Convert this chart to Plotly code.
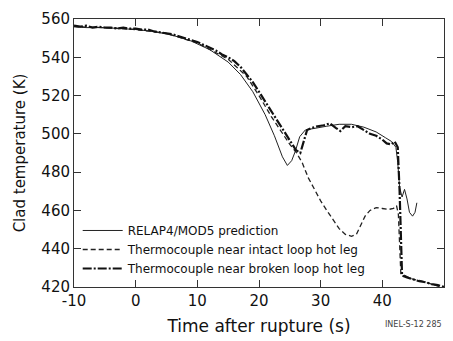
import plotly.graph_objects as go

# RELAP4/MOD5 prediction
relap_t = [-10, -8, -5, -2, 0, 3, 6, 9, 12, 15, 17, 19, 21, 22.5, 23.8, 24.6, 25.3, 25.9, 26.6, 27.5,
           29, 31, 33, 35, 37, 39, 40.5, 41.5, 42.2, 42.5, 42.8, 43.2, 43.6, 44.0, 44.4, 44.9, 45.3, 45.6]
relap_k = [556, 555.5, 555.5, 555, 554.5, 553.5, 551.5, 548.5, 544, 537.5, 531, 522, 510, 499, 488, 483.5,
           486, 491, 498.5, 502, 503, 504, 505, 505, 503.5, 501, 498, 496, 493, 485, 472, 467, 471, 466,
           459, 457, 459, 464]

# Thermocouple near intact loop hot leg
intact_t = [-10, -5, 0, 5, 10, 15, 18, 20, 22, 24, 25, 26, 27, 28, 29, 30, 31, 32, 33, 34, 35, 35.8,
            36.5, 37.2, 38, 39, 40, 41, 41.8, 42.3, 42.6, 42.8, 43, 44, 45, 46, 47, 48, 49, 50]
intact_k = [556, 555.5, 554.5, 552.5, 547.5, 539, 530, 520, 509, 499, 494.5, 490.5, 485, 477, 471, 465,
            460, 455, 450.5, 447.5, 446.5, 447.5, 452, 457, 460, 461.5, 461, 460.5, 461, 462.5, 458, 440,
            427, 425.5, 424, 423.5, 422.5, 421.5, 420.5, 420]

# Thermocouple near broken loop hot leg
broken_t = [-10, -9, -8, -7, -6, -5, -4, -3, -2, -1, 0, 1, 2, 3, 4, 5, 6, 7, 8, 9, 10, 11, 12, 13, 14,
            15, 16, 17, 18, 19, 20, 21, 22, 23, 24, 25, 26, 26.7, 27.3, 27.8, 28.5, 29.5, 30.5, 31.5,
            32.5, 33.2, 34, 35, 36, 37, 38, 39, 40, 40.7, 41.4, 42, 42.5, 42.8, 43, 43.2, 44, 45, 46, 47,
            48, 49, 50]
broken_k = [556.5, 556, 556.5, 555.5, 556, 555.5, 555.5, 555, 555.5, 555, 555, 554.5, 554.5, 553.5, 553,
            552.5, 552, 551, 550, 549, 548, 546.5, 545, 543.5, 541.5, 540, 538, 535, 531, 527, 522, 517,
            512, 507, 502, 497, 491.5, 490, 497, 502, 503, 504, 504.5, 505.5, 503, 501.5, 504, 503.5, 504,
            502, 500, 499, 497, 495, 494.5, 496, 493, 470, 440, 426, 425, 424, 423, 422.5, 421.5, 421, 420]

x_ticks = [-10, 0, 10, 20, 30, 40, 50]
y_ticks = [420, 440, 460, 480, 500, 520, 540, 560]

FONT = "DejaVu Sans"

fig = go.Figure()
fig.add_trace(go.Scatter(x=relap_t, y=relap_k, mode="lines", name="RELAP4/MOD5 prediction",
                         line=dict(color="#222", width=1)))
fig.add_trace(go.Scatter(x=intact_t, y=intact_k, mode="lines", name="Thermocouple near intact loop hot leg",
                         line=dict(color="#222", width=1.3, dash="5px,3px")))
fig.add_trace(go.Scatter(x=broken_t, y=broken_k, mode="lines", name="Thermocouple near broken loop hot leg",
                         line=dict(color="#111", width=2.2, dash="9px,2px,2px,2px")))

axis_common = dict(showline=True, linecolor="#333", linewidth=1, mirror="ticks", ticks="inside",
                   ticklen=7, tickcolor="#333", showgrid=False, zeroline=False,
                   tickfont=dict(family=FONT, size=15, color="#111"))

fig.update_layout(
    width=453, height=341,
    margin=dict(l=74, r=8, t=19, b=52),
    paper_bgcolor="white", plot_bgcolor="white",
    font=dict(family=FONT, color="#111"),
    xaxis=dict(range=[-10, 50], tickvals=x_ticks, ticktext=[str(v) for v in x_ticks],
               title=dict(text="Time after rupture (s)", font=dict(family=FONT, size=17), standoff=11),
               **axis_common),
    yaxis=dict(range=[420, 560], tickvals=y_ticks, ticktext=[str(v) for v in y_ticks],
               title=dict(text="Clad temperature (K)", font=dict(family=FONT, size=15), standoff=12),
               **axis_common),
    legend=dict(x=0.01, y=0.265, xanchor="left", yanchor="top", bgcolor="rgba(0,0,0,0)",
                font=dict(family=FONT, size=12, color="#111"), itemwidth=40, tracegroupgap=0),
    showlegend=True,
)
fig.add_annotation(text="INEL-S-12 285", x=1.0, y=-0.14, xref="paper", yref="paper",
                   xanchor="right", yanchor="middle", showarrow=False,
                   font=dict(family=FONT, size=8, color="#444"))

fig.write_html("out.html")
